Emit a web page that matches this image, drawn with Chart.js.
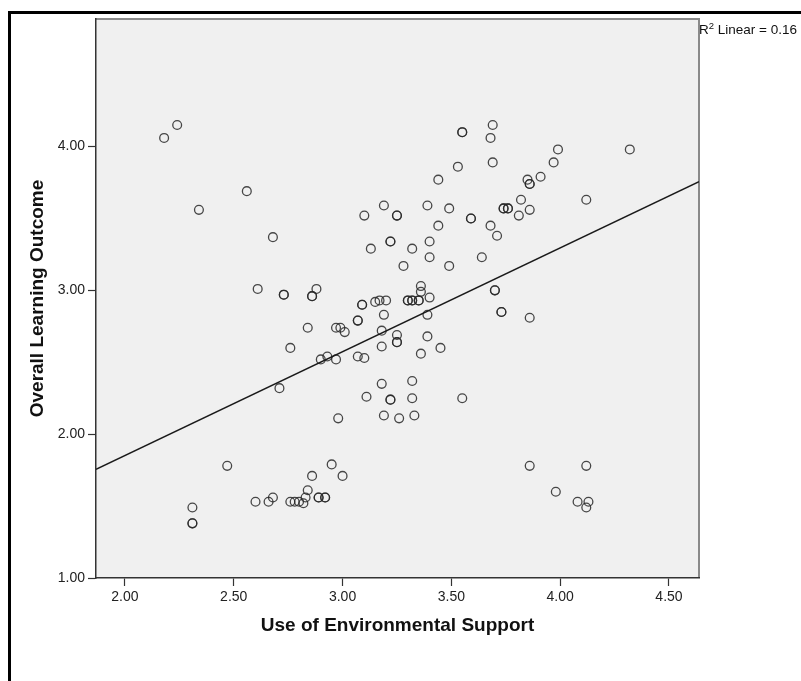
<!DOCTYPE html>
<html>
<head>
<meta charset="utf-8">
<script src="https://cdn.jsdelivr.net/npm/chart.js@4.4.1/dist/chart.umd.min.js"></script>
<style>
body { margin: 0; background: #fff; }
#wrap { position: relative; width: 801px; height: 681px; overflow: hidden; }
#frame { position: absolute; left: 8px; top: 11px; width: 900px; height: 800px;
         border-left: 3px solid #000; border-top: 3px solid #000; }
#plot { position: absolute; left: 0; top: 0; }
#r2 { position: absolute; left: 699px; top: 22px; font: 13.5px "Liberation Sans", Arial, sans-serif;
      color: #111; white-space: nowrap; line-height: 16px; }
#r2 sup { font-size: 9.5px; line-height: 0; }
</style>
</head>
<body>
<div id="wrap">
  <div id="frame"></div>
  <canvas id="plot" width="801" height="681"></canvas>
  <div id="r2">R<sup>2</sup> Linear = 0.16</div>
</div>
<script>
// values (x = Use of Environmental Support, y = Overall Learning Outcome)
const supportX = [
  2.18, 2.24, 2.34, 2.56, 2.68, 2.61, 2.73, 2.73, 2.88, 2.86, 2.86,
  3.10, 3.19, 3.25, 3.25, 3.22, 3.22, 3.13, 3.32, 3.28, 3.39, 3.44, 3.44, 3.40, 3.40, 3.36, 3.36, 3.40,
  3.09, 3.09, 3.15, 3.17, 3.20, 3.30, 3.30, 3.32, 3.32, 3.35, 3.35,
  3.69, 3.55, 3.55, 3.68, 3.69, 3.53, 3.99, 4.32, 3.97, 3.91, 3.85, 3.86, 3.86, 3.82, 4.12,
  3.49, 3.74, 3.74, 3.76, 3.76, 3.86, 3.81, 3.59, 3.59, 3.68, 3.71, 3.64, 3.49, 3.70, 3.70,
  3.19, 3.39, 2.84, 2.97, 2.99, 3.01, 3.07, 3.07, 3.18, 3.25, 3.25, 3.25, 3.39, 3.45, 2.76, 3.18,
  2.90, 2.93, 2.97, 3.07, 3.10, 3.36,
  2.71, 3.18, 3.32, 3.11, 3.22, 3.22, 3.32, 2.98, 3.19, 3.26, 3.33,
  3.73, 3.73, 3.86, 3.55,
  2.47, 2.95, 2.86, 3.00, 2.84, 2.31, 2.31, 2.31, 2.60, 2.66, 2.68, 2.76, 2.78, 2.80, 2.82, 2.83, 2.89, 2.89, 2.92, 2.92,
  3.86, 4.12, 3.98, 4.08, 4.13, 4.12
];
const outcomeY = [
  4.06, 4.15, 3.56, 3.69, 3.37, 3.01, 2.97, 2.97, 3.01, 2.96, 2.96,
  3.52, 3.59, 3.52, 3.52, 3.34, 3.34, 3.29, 3.29, 3.17, 3.59, 3.77, 3.45, 3.34, 3.23, 3.03, 2.99, 2.95,
  2.90, 2.90, 2.92, 2.93, 2.93, 2.93, 2.93, 2.93, 2.93, 2.93, 2.93,
  4.15, 4.10, 4.10, 4.06, 3.89, 3.86, 3.98, 3.98, 3.89, 3.79, 3.77, 3.74, 3.74, 3.63, 3.63,
  3.57, 3.57, 3.57, 3.57, 3.57, 3.56, 3.52, 3.50, 3.50, 3.45, 3.38, 3.23, 3.17, 3.00, 3.00,
  2.83, 2.83, 2.74, 2.74, 2.74, 2.71, 2.79, 2.79, 2.72, 2.69, 2.64, 2.64, 2.68, 2.60, 2.60, 2.61,
  2.52, 2.54, 2.52, 2.54, 2.53, 2.56,
  2.32, 2.35, 2.37, 2.26, 2.24, 2.24, 2.25, 2.11, 2.13, 2.11, 2.13,
  2.85, 2.85, 2.81, 2.25,
  1.78, 1.79, 1.71, 1.71, 1.61, 1.49, 1.38, 1.38, 1.53, 1.53, 1.56, 1.53, 1.53, 1.53, 1.52, 1.56, 1.56, 1.56, 1.56, 1.56,
  1.78, 1.78, 1.60, 1.53, 1.53, 1.49
];

// fit line end points (edge to edge of the plot)
const fitX = [1.867, 4.638];
const fitY = [1.756, 3.756];

const xTicks = [2.0, 2.5, 3.0, 3.5, 4.0, 4.5];
const yTicks = [1.0, 2.0, 3.0, 4.0];

const FONT = '"Liberation Sans", Arial, sans-serif';

// grey plot background + light frame on top/right
const plotBg = {
  id: 'plotBg',
  beforeDraw(chart) {
    const { ctx, chartArea: a } = chart;
    ctx.save();
    ctx.fillStyle = '#f0f0f0';
    ctx.fillRect(a.left, a.top, a.width, a.height);
    ctx.strokeStyle = '#8a8a8a';
    ctx.lineWidth = 2;
    ctx.beginPath();
    ctx.moveTo(a.left, a.top);
    ctx.lineTo(a.right, a.top);
    ctx.lineTo(a.right, a.bottom);
    ctx.stroke();
    ctx.restore();
  }
};

const points = supportX.map((x, i) => ({ x: x, y: outcomeY[i] }));
const fitLine = fitX.map((x, i) => ({ x: x, y: fitY[i] }));

new Chart(document.getElementById('plot').getContext('2d'), {
  type: 'scatter',
  data: {
    datasets: [{
      data: fitLine,
      showLine: true,
      borderColor: '#1a1a1a',
      borderWidth: 1.5,
      pointRadius: 0,
      fill: false
    }, {
      data: points,
      pointRadius: 4.4,
      pointBorderWidth: 1.3,
      pointBorderColor: 'rgba(40,40,40,0.85)',
      pointBackgroundColor: 'rgba(0,0,0,0)'
    }]
  },
  options: {
    responsive: false,
    animation: false,
    layout: { padding: { left: 22, top: 19, right: 102, bottom: 40 } },
    plugins: { legend: { display: false }, tooltip: { enabled: false } },
    scales: {
      x: {
        type: 'linear',
        min: 1.867,
        max: 4.638,
        afterBuildTicks: s => { s.ticks = xTicks.map(v => ({ value: v })); },
        afterFit: s => { s.height = 63; },
        ticks: { autoSkip: false, maxRotation: 0, padding: 3, color: '#222',
                 font: { family: FONT, size: 14 }, callback: v => Number(v).toFixed(2) },
        grid: { drawOnChartArea: false, drawTicks: true, tickLength: 8, tickColor: '#333', tickWidth: 1.2 },
        border: { color: '#333', width: 1.5 },
        title: { display: true, text: 'Use of Environmental Support', color: '#111',
                 font: { family: FONT, size: 19, weight: 'bold' }, padding: { top: 4, bottom: 4 } }
      },
      y: {
        type: 'linear',
        min: 1.0,
        max: 4.887,
        afterBuildTicks: s => { s.ticks = yTicks.map(v => ({ value: v })); },
        afterFit: s => { s.width = 74; },
        ticks: { autoSkip: false, padding: 3, color: '#222',
                 font: { family: FONT, size: 14 }, callback: v => Number(v).toFixed(2) },
        grid: { drawOnChartArea: false, drawTicks: true, tickLength: 8, tickColor: '#333', tickWidth: 1.2 },
        border: { color: '#333', width: 1.5 },
        title: { display: true, text: 'Overall Learning Outcome', color: '#111',
                 font: { family: FONT, size: 19, weight: 'bold' }, padding: { top: 4, bottom: 4 } }
      }
    }
  },
  plugins: [plotBg]
});
</script>
</body>
</html>
